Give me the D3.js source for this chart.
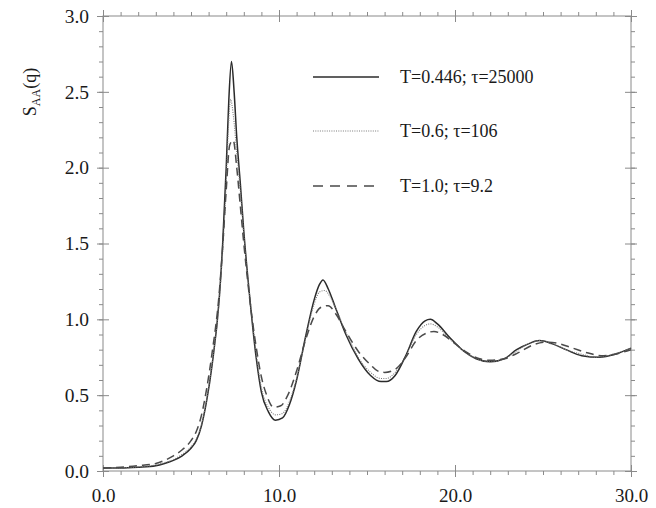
<!DOCTYPE html>
<html>
<head>
<meta charset="utf-8">
<script src="https://cdn.jsdelivr.net/npm/d3@7"></script>
<style>
  html, body { margin: 0; padding: 0; background: #fff; }
  svg { display: block; }
  text { font-family: "Liberation Serif", "Times New Roman", serif; fill: #1a1a1a; }
</style>
</head>
<body>
<svg id="chart" width="656" height="508"></svg>
<script>
// Partial structure factor S_AA(q) at three temperatures
const qLow  = [0, 1, 2, 3, 3.5, 4, 4.5, 5, 5.3, 5.6, 5.9, 6.2, 6.6, 6.8, 7.0, 7.15, 7.3, 7.45, 7.6, 7.8, 8.0, 8.35, 8.7, 9.0, 9.4, 9.8, 10.2, 10.6, 11.0, 11.5, 12.0, 12.3, 12.5, 12.8, 13.2, 13.8, 14.5, 15.2, 15.8, 16.1, 16.6, 17.2, 17.8, 18.3, 18.6, 19.0, 19.7, 20.5, 21.2, 22.0, 22.8, 23.5, 24.2, 24.8, 25.5, 26.3, 27.2, 28.2, 29.1, 30];
const sLow  = [0.02, 0.02, 0.025, 0.035, 0.05, 0.07, 0.10, 0.15, 0.20, 0.30, 0.47, 0.70, 1.13, 1.50, 2.00, 2.45, 2.70, 2.50, 2.20, 1.90, 1.58, 1.13, 0.75, 0.52, 0.39, 0.335, 0.35, 0.44, 0.60, 0.88, 1.13, 1.23, 1.26, 1.20, 1.08, 0.90, 0.74, 0.63, 0.59, 0.59, 0.63, 0.76, 0.92, 0.99, 1.00, 0.97, 0.88, 0.79, 0.74, 0.72, 0.74, 0.80, 0.84, 0.86, 0.84, 0.80, 0.76, 0.75, 0.77, 0.81];

const qMid  = [0, 1, 2, 3, 3.5, 4, 4.5, 5, 5.3, 5.6, 5.9, 6.2, 6.6, 6.8, 7.0, 7.12, 7.25, 7.4, 7.6, 7.8, 8.0, 8.35, 8.7, 9.0, 9.4, 9.8, 10.2, 10.6, 11.0, 11.5, 12.0, 12.3, 12.6, 12.9, 13.3, 13.9, 14.5, 15.2, 15.8, 16.1, 16.6, 17.2, 17.8, 18.3, 18.6, 19.0, 19.7, 20.5, 21.2, 22.0, 22.8, 23.5, 24.2, 24.8, 25.5, 26.3, 27.2, 28.0, 29.0, 30];
const sMid  = [0.02, 0.02, 0.027, 0.04, 0.055, 0.075, 0.11, 0.16, 0.21, 0.31, 0.48, 0.71, 1.12, 1.45, 1.90, 2.25, 2.45, 2.35, 2.10, 1.85, 1.56, 1.14, 0.78, 0.55, 0.42, 0.37, 0.38, 0.46, 0.61, 0.87, 1.10, 1.18, 1.19, 1.15, 1.05, 0.89, 0.75, 0.65, 0.61, 0.61, 0.65, 0.76, 0.90, 0.96, 0.97, 0.95, 0.87, 0.79, 0.74, 0.72, 0.74, 0.79, 0.84, 0.86, 0.84, 0.80, 0.77, 0.75, 0.77, 0.81];

const qHigh = [0, 1, 2, 3, 3.5, 4, 4.5, 5, 5.3, 5.6, 5.9, 6.2, 6.6, 6.8, 7.0, 7.2, 7.4, 7.6, 7.8, 8.0, 8.35, 8.7, 9.0, 9.3, 9.7, 10.1, 10.5, 11.0, 11.5, 12.0, 12.4, 12.8, 13.2, 13.8, 14.5, 15.2, 15.6, 16.0, 16.6, 17.2, 17.8, 18.4, 18.8, 19.3, 20.0, 20.7, 21.4, 22.0, 22.8, 23.6, 24.4, 25.2, 25.9, 26.7, 27.5, 28.3, 29.1, 30];
const sHigh = [0.02, 0.025, 0.035, 0.05, 0.07, 0.10, 0.14, 0.20, 0.26, 0.37, 0.55, 0.78, 1.17, 1.48, 1.85, 2.15, 2.18, 2.00, 1.75, 1.50, 1.12, 0.82, 0.62, 0.50, 0.42, 0.43, 0.50, 0.66, 0.86, 1.02, 1.08, 1.09, 1.04, 0.92, 0.79, 0.70, 0.66, 0.65, 0.67, 0.75, 0.86, 0.91, 0.92, 0.90, 0.84, 0.78, 0.74, 0.73, 0.74, 0.78, 0.83, 0.85, 0.84, 0.81, 0.78, 0.76, 0.77, 0.80];

const seriesLabels = ["T=0.446; \u03C4=25000", "T=0.6; \u03C4=106", "T=1.0; \u03C4=9.2"];
const xTicks = [0, 10, 20, 30];
const yTicks = [0, 0.5, 1.0, 1.5, 2.0, 2.5, 3.0];

const series = [
  { name: seriesLabels[0], q: qLow,  s: sLow,  stroke: "#2b2b2b", width: 1.5, dash: null },
  { name: seriesLabels[1], q: qMid,  s: sMid,  stroke: "#7a7a7a", width: 1.1, dash: "1,1.3" },
  { name: seriesLabels[2], q: qHigh, s: sHigh, stroke: "#4a4a4a", width: 1.5, dash: "8,5" }
];

const svg = d3.select("#chart");
const plotLeft = 103, plotRight = 631, plotTop = 16, plotBottom = 471;

const x = d3.scaleLinear().domain([0, 30]).range([plotLeft, plotRight]);
const y = d3.scaleLinear().domain([0, 3]).range([plotBottom, plotTop]);

const axisColor = "#8a8a8a";
const fmt = d3.format(".1f");

// Frame
svg.append("rect")
  .attr("x", plotLeft).attr("y", plotTop)
  .attr("width", plotRight - plotLeft).attr("height", plotBottom - plotTop)
  .attr("fill", "none").attr("stroke", axisColor).attr("stroke-width", 1);

function styleAxis(g) {
  g.select(".domain").remove();
  g.selectAll(".tick line").attr("stroke", axisColor).attr("stroke-width", 1);
}

const minorX = d3.range(0, 30.001, 1);
const minorY = d3.range(0, 3.0001, 0.1);

// Minor ticks (outward) on all four sides
svg.append("g").attr("transform", `translate(0,${plotBottom})`)
  .call(d3.axisBottom(x).tickValues(minorX).tickSize(4).tickFormat("")).call(styleAxis);
svg.append("g").attr("transform", `translate(0,${plotTop})`)
  .call(d3.axisTop(x).tickValues(minorX).tickSize(4).tickFormat("")).call(styleAxis);
svg.append("g").attr("transform", `translate(${plotLeft},0)`)
  .call(d3.axisLeft(y).tickValues(minorY).tickSize(4).tickFormat("")).call(styleAxis);
svg.append("g").attr("transform", `translate(${plotRight},0)`)
  .call(d3.axisRight(y).tickValues(minorY).tickSize(4).tickFormat("")).call(styleAxis);

// Major ticks crossing the frame; labels on bottom and left
const bx = svg.append("g").attr("transform", `translate(0,${plotBottom})`)
  .call(d3.axisBottom(x).tickValues(xTicks).tickSize(6).tickPadding(12).tickFormat(fmt)).call(styleAxis);
bx.selectAll("text").attr("font-size", 19).attr("fill", "#1a1a1a")
  .style("font-family", "Liberation Serif, serif");
svg.append("g").attr("transform", `translate(0,${plotBottom})`)
  .call(d3.axisTop(x).tickValues(xTicks).tickSize(6).tickFormat("")).call(styleAxis);
svg.append("g").attr("transform", `translate(0,${plotTop})`)
  .call(d3.axisTop(x).tickValues(xTicks).tickSize(6).tickFormat("")).call(styleAxis);
svg.append("g").attr("transform", `translate(0,${plotTop})`)
  .call(d3.axisBottom(x).tickValues(xTicks).tickSize(6).tickFormat("")).call(styleAxis);

const ly = svg.append("g").attr("transform", `translate(${plotLeft},0)`)
  .call(d3.axisLeft(y).tickValues(yTicks).tickSize(6).tickPadding(8).tickFormat(fmt)).call(styleAxis);
ly.selectAll("text").attr("font-size", 19.5).attr("fill", "#1a1a1a")
  .style("font-family", "Liberation Serif, serif");
svg.append("g").attr("transform", `translate(${plotLeft},0)`)
  .call(d3.axisRight(y).tickValues(yTicks).tickSize(6).tickFormat("")).call(styleAxis);
svg.append("g").attr("transform", `translate(${plotRight},0)`)
  .call(d3.axisRight(y).tickValues(yTicks).tickSize(6).tickFormat("")).call(styleAxis);
svg.append("g").attr("transform", `translate(${plotRight},0)`)
  .call(d3.axisLeft(y).tickValues(yTicks).tickSize(6).tickFormat("")).call(styleAxis);

// Y axis title: S_AA(q)
const yt = svg.append("text")
  .attr("transform", "translate(36,92) rotate(-90)")
  .attr("text-anchor", "middle")
  .attr("font-size", 18);
yt.append("tspan").text("S");
yt.append("tspan").attr("font-size", 12).attr("dy", 4).text("AA");
yt.append("tspan").attr("dy", -4).text("(q)");

// Curves
const line = d3.line()
  .x(d => x(d[0]))
  .y(d => y(d[1]))
  .curve(d3.curveMonotoneX);

series.forEach(sr => {
  const pts = sr.q.map((q, i) => [q, sr.s[i]]);
  svg.append("path")
    .datum(pts)
    .attr("d", line)
    .attr("fill", "none")
    .attr("stroke", sr.stroke)
    .attr("stroke-width", sr.width)
    .attr("stroke-dasharray", sr.dash)
    .attr("stroke-linejoin", "round");
});

// Legend
const legendRows = [77, 131, 186];
series.forEach((sr, i) => {
  const g = svg.append("g").attr("transform", `translate(0,${legendRows[i]})`);
  g.append("line")
    .attr("x1", 313).attr("x2", 379).attr("y1", 0).attr("y2", 0)
    .attr("stroke", sr.stroke)
    .attr("stroke-width", sr.width)
    .attr("stroke-dasharray", sr.dash ? (i === 2 ? "10,7" : sr.dash) : null);
  g.append("text")
    .attr("x", 400).attr("y", 6)
    .attr("font-size", 18)
    .text(sr.name);
});
</script>
</body>
</html>
